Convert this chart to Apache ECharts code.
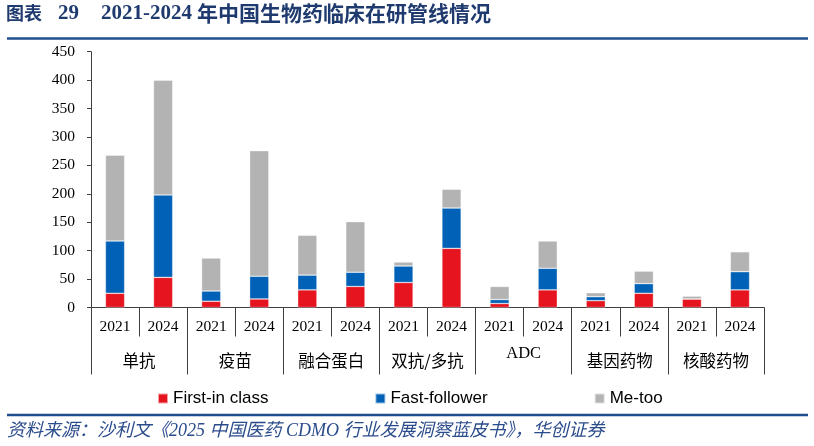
<!DOCTYPE html>
<html>
<head>
<meta charset="utf-8">
<script src="https://cdn.jsdelivr.net/npm/echarts@6/dist/echarts.min.js"></script>
<style>
html,body{margin:0;padding:0;background:#fff;}
#chart{width:814px;height:446px;}
</style>
</head>
<body>
<div id="chart"></div>
<script>
// ---- data ----
const groups = ['单抗', '疫苗', '融合蛋白', '双抗/多抗', 'ADC', '基因药物', '核酸药物'];
const yearLabels = ['2021','2024','2021','2024','2021','2024','2021','2024','2021','2024','2021','2024','2021','2024'];
const firstInClass = [25, 53, 11, 15, 31, 37, 44, 104, 7, 31, 12, 25, 15, 31];
const fastFollower = [92, 145, 18, 40, 26, 25, 29, 71, 7, 38, 7, 17, 0, 32];
const meToo       = [151, 202, 58, 221, 70, 89, 7, 33, 23, 48, 7, 22, 5, 35];
const yTicks = { min: 0, max: 450, interval: 50 };

const seriesNames = ['First-in class', 'Fast-follower', 'Me-too'];
const colors = ['#E6141E', '#0061B7', '#B3B3B3'];

const titleColor = '#1F3A6E';
const ruleColor = '#1F4E8F';
const axisColor = '#404040';
const serif = "'Liberation Serif','Times New Roman',serif";
const cjk = "'Noto Sans CJK SC',sans-serif";

const chart = echarts.init(document.getElementById('chart'), null, { renderer: 'canvas' });

function bar(name, data, color) {
  return {
    name: name,
    type: 'bar',
    stack: 'total',
    xAxisIndex: 0,
    barWidth: '40%',
    data: data,
    itemStyle: { color: color, borderColor: 'rgba(255,255,255,0.6)', borderWidth: 0.6 },
    emphasis: { disabled: true }
  };
}

const option = {
  animation: false,
  backgroundColor: '#fff',
  color: colors,
  grid: { left: 91, right: 50, top: 51.7, bottom: 138.5, containLabel: false },
  legend: {
    data: seriesNames,
    left: 152,
    top: 385,
    itemWidth: 10,
    itemHeight: 10,
    itemGap: 106,
    icon: 'rect',
    textStyle: { fontFamily: "'Liberation Sans',Arial,sans-serif", fontSize: 17, color: '#000' }
  },
  xAxis: [
    {
      type: 'category',
      data: yearLabels,
      position: 'bottom',
      axisLine: { show: true, lineStyle: { color: axisColor, width: 1 } },
      axisTick: { show: true, length: 29, interval: 0, lineStyle: { color: axisColor, width: 1 } },
      axisLabel: { interval: 0, margin: 11, fontFamily: serif, fontSize: 15.5, color: '#000' },
      splitLine: { show: false }
    },
    {
      type: 'category',
      data: groups,
      position: 'bottom',
      axisLine: { show: false },
      axisTick: { show: true, length: 67, interval: 0, lineStyle: { color: axisColor, width: 1 } },
      axisLabel: {
        interval: 0,
        margin: 31,
        color: '#000',
        formatter: function (v) { return v === 'ADC' ? '{l|' + v + '}' : '{c|' + v + '}'; },
        rich: {
          c: { fontFamily: cjk, fontSize: 16.5, color: '#000', padding: [14, 0, 0, 0] },
          l: { fontFamily: serif, fontSize: 16.5, color: '#000', padding: [7, 0, 7, 0] }
        }
      },
      splitLine: { show: false }
    }
  ],
  yAxis: {
    type: 'value',
    min: yTicks.min,
    max: yTicks.max,
    interval: yTicks.interval,
    axisLine: { show: true, lineStyle: { color: axisColor, width: 1 } },
    axisTick: { show: true, length: 4, lineStyle: { color: axisColor } },
    axisLabel: { margin: 16, fontFamily: serif, fontSize: 15.5, color: '#000' },
    splitLine: { show: false }
  },
  series: [
    bar(seriesNames[0], firstInClass, colors[0]),
    bar(seriesNames[1], fastFollower, colors[1]),
    bar(seriesNames[2], meToo, colors[2])
  ],
  graphic: [
    { type: 'text', left: 6, top: 4, style: { text: '图表', fill: titleColor, font: "bold 18px " + cjk } },
    { type: 'text', left: 58, top: 3, style: { text: '29', fill: titleColor, font: "bold 21px " + serif } },
    { type: 'text', left: 101, top: 3, style: { text: '2021-2024', fill: titleColor, font: "bold 21px " + serif } },
    { type: 'text', left: 197, top: 3, style: { text: '年中国生物药临床在研管线情况', fill: titleColor, font: "bold 21px " + cjk } },
    { type: 'line', shape: { x1: 7, y1: 38.5, x2: 808, y2: 38.5 }, style: { stroke: ruleColor, lineWidth: 2.5 } },
    { type: 'line', shape: { x1: 7, y1: 415, x2: 808, y2: 415 }, style: { stroke: ruleColor, lineWidth: 2.5 } },
    { type: 'text', left: 7, top: 422, style: { text: '资料来源：沙利文《2025 中国医药 CDMO 行业发展洞察蓝皮书》，华创证券', fill: '#2B4C8C', font: "italic 18px 'Liberation Serif','Noto Sans CJK SC',serif" } }
  ]
};

chart.setOption(option);
</script>
</body>
</html>
